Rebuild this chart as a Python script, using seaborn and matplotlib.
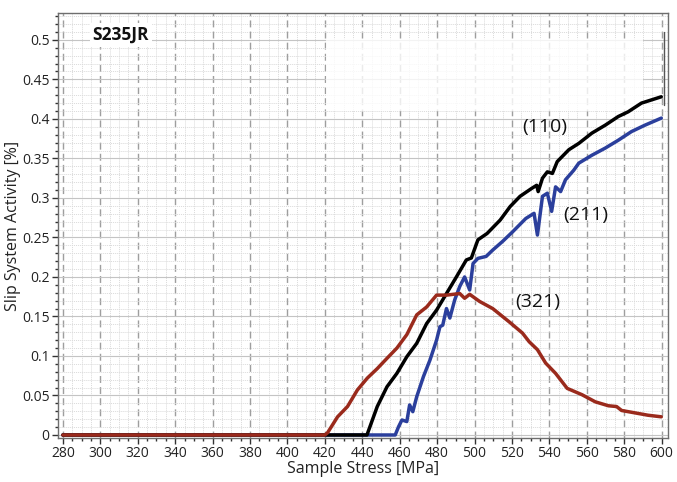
import numpy as np
import pandas as pd
import matplotlib
matplotlib.use("Agg")
import matplotlib.pyplot as plt
import seaborn as sns
from matplotlib.ticker import MultipleLocator
from matplotlib.patches import Rectangle

# ---- data ----
x110 = [280, 442.5, 448, 453.2, 458.5, 463.8, 469.1, 474.4, 479.7, 485, 490.3, 495.6,
        498.3, 501.8, 506.7, 513.7, 519, 524.3, 530.5, 533.2, 534, 536.3, 538.9, 541.6,
        544.2, 550.4, 555.7, 562.7, 569.8, 576.8, 582.1, 589.2, 594.5, 599.8]
y110 = [0, 0, 0.036, 0.061, 0.078, 0.099, 0.116, 0.141, 0.158, 0.179, 0.200, 0.2215,
        0.224, 0.247, 0.255, 0.272, 0.289, 0.302, 0.312, 0.316, 0.308, 0.325, 0.333, 0.331,
        0.346, 0.361, 0.369, 0.382, 0.392, 0.403, 0.409, 0.420, 0.424, 0.428]

x211 = [280, 457.6, 459.4, 461.2, 463.8, 465.3, 467, 469.1, 472.7, 476.2, 479.7, 481.5,
        483, 485, 486.8, 489.4, 492.1, 494.7, 497.4, 499.2, 501.8, 506.2, 509.7, 515,
        520.3, 527.4, 531.8, 533.6, 536.3, 538.9, 541.2, 543.3, 546, 548.6, 553, 555.7,
        562.7, 569.8, 576.8, 583.9, 591, 599.8]
y211 = [0, 0, 0.0105, 0.019, 0.017, 0.038, 0.0295, 0.0485, 0.074, 0.095, 0.120, 0.137,
        0.139, 0.160, 0.148, 0.171, 0.188, 0.200, 0.1835, 0.217, 0.2235, 0.226, 0.234, 0.245,
        0.257, 0.274, 0.2805, 0.253, 0.302, 0.306, 0.283, 0.314, 0.308, 0.323, 0.335, 0.344,
        0.354, 0.363, 0.373, 0.384, 0.392, 0.401]

x321 = [280, 420, 421.5, 426.8, 432.1, 437.4, 442.7, 448, 453.2, 458.5, 463.8, 469.1,
        474.4, 479.7, 485, 492.1, 494.7, 497.4, 502.7, 509.7, 518.6, 525.6, 529.2, 533.6,
        538, 543.3, 549.5, 557.4, 564.5, 571.5, 575.9, 578.6, 585.7, 592.7, 599.8]
y321 = [0, 0, 0.003, 0.023, 0.036, 0.057, 0.072, 0.084, 0.097, 0.110, 0.127, 0.152,
        0.162, 0.177, 0.177, 0.179, 0.173, 0.178, 0.169, 0.160, 0.143, 0.129, 0.118, 0.108,
        0.091, 0.078, 0.059, 0.051, 0.042, 0.037, 0.036, 0.031, 0.028, 0.025, 0.023]

series = ["(211)", "(110)", "(321)"]
colors = {"(110)": "#000000", "(211)": "#2b3f9c", "(321)": "#9a2a1c"}
ytick_labels = ["0", "0.05", "0.1", "0.15", "0.2", "0.25", "0.3", "0.35",
                "0.4", "0.45", "0.5"]

df = pd.concat([
    pd.DataFrame({"stress": x211, "activity": y211, "plane": "(211)"}),
    pd.DataFrame({"stress": x110, "activity": y110, "plane": "(110)"}),
    pd.DataFrame({"stress": x321, "activity": y321, "plane": "(321)"}),
], ignore_index=True)

sns.set_theme(style="white")
plt.rcParams['font.family'] = ['Open Sans', 'DejaVu Sans']

fig = plt.figure(figsize=(6.77, 4.82), dpi=100)
ax = fig.add_axes([0.0857, 0.0913, 0.9005, 0.8817])

sns.lineplot(data=df, x="stress", y="activity", hue="plane", hue_order=series,
             palette=colors, linewidth=2.5, sort=False, estimator=None,
             legend=False, ax=ax, zorder=5)

ax.set_xlim(277.4, 603.2)
ax.set_ylim(-0.0038, 0.534)
ax.xaxis.set_major_locator(MultipleLocator(20))
ax.xaxis.set_minor_locator(MultipleLocator(5))
ax.yaxis.set_minor_locator(MultipleLocator(0.01))
ax.set_yticks(np.arange(0, 0.501, 0.05))
ax.set_yticklabels(ytick_labels)

ax.grid(which="major", axis="x", color="#9e9e9e", linestyle=(0, (5, 3)), linewidth=1.0)
ax.grid(which="major", axis="y", color="#c4c4c4", linestyle="-", linewidth=0.8)
ax.grid(which="minor", axis="both", color="#dadada", linestyle=(0, (1, 1)), linewidth=0.7)
ax.set_axisbelow(True)

for s in ax.spines.values():
    s.set_color("#6e6e6e")
    s.set_linewidth(1.0)

ax.tick_params(axis="both", which="major", direction="out", length=4, width=1,
               color="#333333", labelsize=10, labelcolor="#222222", pad=2,
               bottom=True, left=True)
ax.tick_params(axis="both", which="minor", direction="out", length=2, width=1,
               color="#333333", bottom=True, left=True)

ax.set_xlabel("Sample Stress [MPa]", fontsize=11.5, color="#222222", labelpad=0)
ax.set_ylabel("Slip System Activity [%]", fontsize=11.5, color="#222222", labelpad=1)

# erased legend area
ax.add_patch(Rectangle((0.44, 0.77), 0.52, 0.17, transform=ax.transAxes,
                       facecolor="white", edgecolor="none", alpha=0.8, zorder=2))
ax.plot([0.9935, 0.9935], [0.784, 0.955], transform=ax.transAxes,
        color="#555555", linewidth=1.0, zorder=3)

ax.text(295.9, 0.506, "S235JR", fontsize=12.5, fontweight="bold", color="#111111",
        va="center", ha="left", zorder=6,
        bbox=dict(facecolor="white", edgecolor="none", pad=2))
ax.text(537.5, 0.390, "(110)", fontsize=14, color="#111111", ha="center", va="center", zorder=6)
ax.text(559.2, 0.279, "(211)", fontsize=14, color="#111111", ha="center", va="center", zorder=6)
ax.text(533.8, 0.168, "(321)", fontsize=14, color="#111111", ha="center", va="center", zorder=6)

fig.savefig("out.png", dpi=100)
